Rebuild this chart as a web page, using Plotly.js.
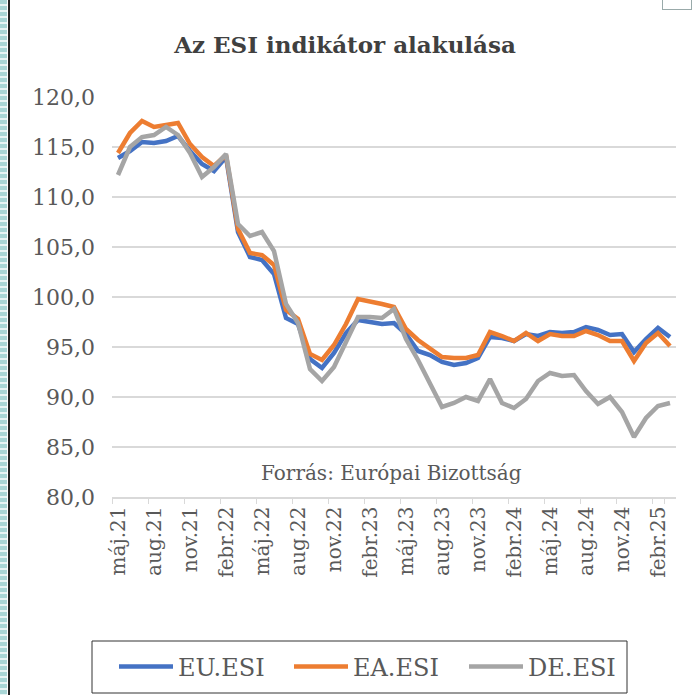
<!DOCTYPE html>
<html>
<head>
<meta charset="utf-8">
<script src="https://cdn.plot.ly/plotly-3.0.1.min.js"></script>
<style>
  html, body { margin: 0; padding: 0; background: #ffffff; }
  #wrap { position: relative; width: 696px; height: 695px; overflow: hidden; }
  #chart { position: absolute; left: 0; top: 0; width: 696px; height: 695px; }
  #stripe { position: absolute; left: 0; top: 0; width: 7px; height: 695px;
    background: repeating-linear-gradient(to bottom, #a9d6d6 0px, #a9d6d6 4px, #e8f4f4 4px, #e8f4f4 6px); z-index: 2; }
  #vline { position: absolute; left: 8px; top: 0; width: 2px; height: 695px; background: #222; z-index: 2; }
  #corner { position: absolute; left: 662px; top: -1px; width: 28px; height: 10px; border: 1px solid #9aa; border-top: none; z-index: 2; }
</style>
</head>
<body>
<div id="wrap">
  <div id="chart"></div>
  <div id="stripe"></div>
  <div id="vline"></div>
  <div id="corner"></div>
</div>
<script>
const months = [
  "máj.21","jún.21","júl.21","aug.21","szept.21","okt.21","nov.21","dec.21",
  "jan.22","febr.22","márc.22","ápr.22","máj.22","jún.22","júl.22","aug.22","szept.22","okt.22","nov.22","dec.22",
  "jan.23","febr.23","márc.23","ápr.23","máj.23","jún.23","júl.23","aug.23","szept.23","okt.23","nov.23","dec.23",
  "jan.24","febr.24","márc.24","ápr.24","máj.24","jún.24","júl.24","aug.24","szept.24","okt.24","nov.24","dec.24",
  "jan.25","febr.25","márc.25"
];
const tickLabels = ["máj.21","aug.21","nov.21","febr.22","máj.22","aug.22","nov.22","febr.23",
  "máj.23","aug.23","nov.23","febr.24","máj.24","aug.24","nov.24","febr.25"];

const euESI = [113.9,114.6,115.5,115.4,115.6,116.1,114.6,113.3,112.6,114.0,106.5,104.0,103.7,102.3,97.9,97.3,
  93.8,92.9,94.4,96.4,97.7,97.5,97.3,97.4,96.3,94.6,94.2,93.5,93.2,93.4,93.9,96.0,
  95.9,95.6,96.3,96.1,96.5,96.4,96.5,97.0,96.7,96.2,96.3,94.5,95.8,96.9,96.0];
const eaESI = [114.4,116.4,117.6,117.0,117.2,117.4,115.3,114.0,113.1,114.2,106.8,104.4,104.2,103.2,98.7,97.8,
  94.3,93.7,95.2,97.3,99.8,99.6,99.3,99.0,96.8,95.7,94.8,94.0,93.9,93.9,94.2,96.5,
  96.1,95.6,96.4,95.6,96.3,96.1,96.1,96.6,96.2,95.6,95.6,93.6,95.4,96.4,95.1];
const deESI = [112.2,115.0,116.0,116.2,117.0,116.2,114.4,112.0,113.0,114.3,107.3,106.1,106.5,104.6,99.3,97.4,
  92.8,91.6,93.0,95.4,98.0,98.0,97.9,98.8,95.8,93.7,91.4,89.0,89.4,90.0,89.6,91.8,
  89.4,88.9,89.8,91.6,92.4,92.1,92.2,90.6,89.3,90.0,88.5,86.0,87.9,89.1,89.4];

const serif = "DejaVu Serif, Liberation Serif, serif";
const lw = 4.5;
const traces = [
  {x: months, y: euESI, name: "EU.ESI", type: "scatter", mode: "lines",
   line: {color: "#4472C4", width: lw}},
  {x: months, y: eaESI, name: "EA.ESI", type: "scatter", mode: "lines",
   line: {color: "#ED7D31", width: lw}},
  {x: months, y: deESI, name: "DE.ESI", type: "scatter", mode: "lines",
   line: {color: "#A5A5A5", width: lw}}
];

const plotL = 112, plotW = 564, plotB = 497, plotH = 400;
const layout = {
  width: 696, height: 695,
  paper_bgcolor: "#ffffff", plot_bgcolor: "#ffffff",
  margin: {l: 112, r: 20, t: 97, b: 198},
  title: {text: "<b>Az ESI indikátor alakulása</b>", x: 345/696, xanchor: "center", xref: "container",
    y: 1 - 45/695, yanchor: "middle", yref: "container",
    font: {family: serif, size: 23, color: "#404040"}},
  showlegend: true,
  legend: {orientation: "h", x: 114/696, xanchor: "left", xref: "container",
    y: 1 - 667/695, yanchor: "middle", yref: "container",
    borderwidth: 0, bgcolor: "rgba(0,0,0,0)",
    itemwidth: 54, entrywidth: 106, entrywidthmode: "pixels",
    font: {family: serif, size: 24, color: "#595959"}},
  shapes: [{type: "rect", xref: "paper", yref: "paper",
    x0: (92 - plotL) / plotW, x1: (627 - plotL) / plotW,
    y0: (plotB - 693) / plotH, y1: (plotB - 641) / plotH,
    line: {color: "#333333", width: 1}, fillcolor: "rgba(0,0,0,0)", layer: "below"}],
  xaxis: {type: "category", range: [-0.5, months.length - 0.5],
    tickmode: "array", tickvals: tickLabels, ticktext: tickLabels,
    tickson: "boundaries", ticks: "outside", ticklen: 5, tickcolor: "#d9d9d9",
    tickangle: -90, showgrid: false, showline: true, linecolor: "#d9d9d9", linewidth: 1.5,
    tickfont: {family: serif, size: 20, color: "#595959"}, fixedrange: true},
  yaxis: {range: [80, 120], dtick: 5, tick0: 80, tickformat: ".1f",
    showgrid: true, gridcolor: "#d9d9d9", gridwidth: 1.5,
    zeroline: false, ticks: "", ticklabelstandoff: 16,
    tickfont: {family: serif, size: 22, color: "#595959"}, fixedrange: true},
  separators: ",.",
  annotations: [{text: "Forrás: Európai Bizottság", xref: "paper", yref: "paper",
    x: (391 - 112) / 564, y: (497 - 473) / 400, xanchor: "center", yanchor: "middle", showarrow: false,
    font: {family: serif, size: 20, color: "#595959"}}]
};

Plotly.newPlot("chart", traces, layout, {staticPlot: true, displayModeBar: false});
</script>
</body>
</html>
